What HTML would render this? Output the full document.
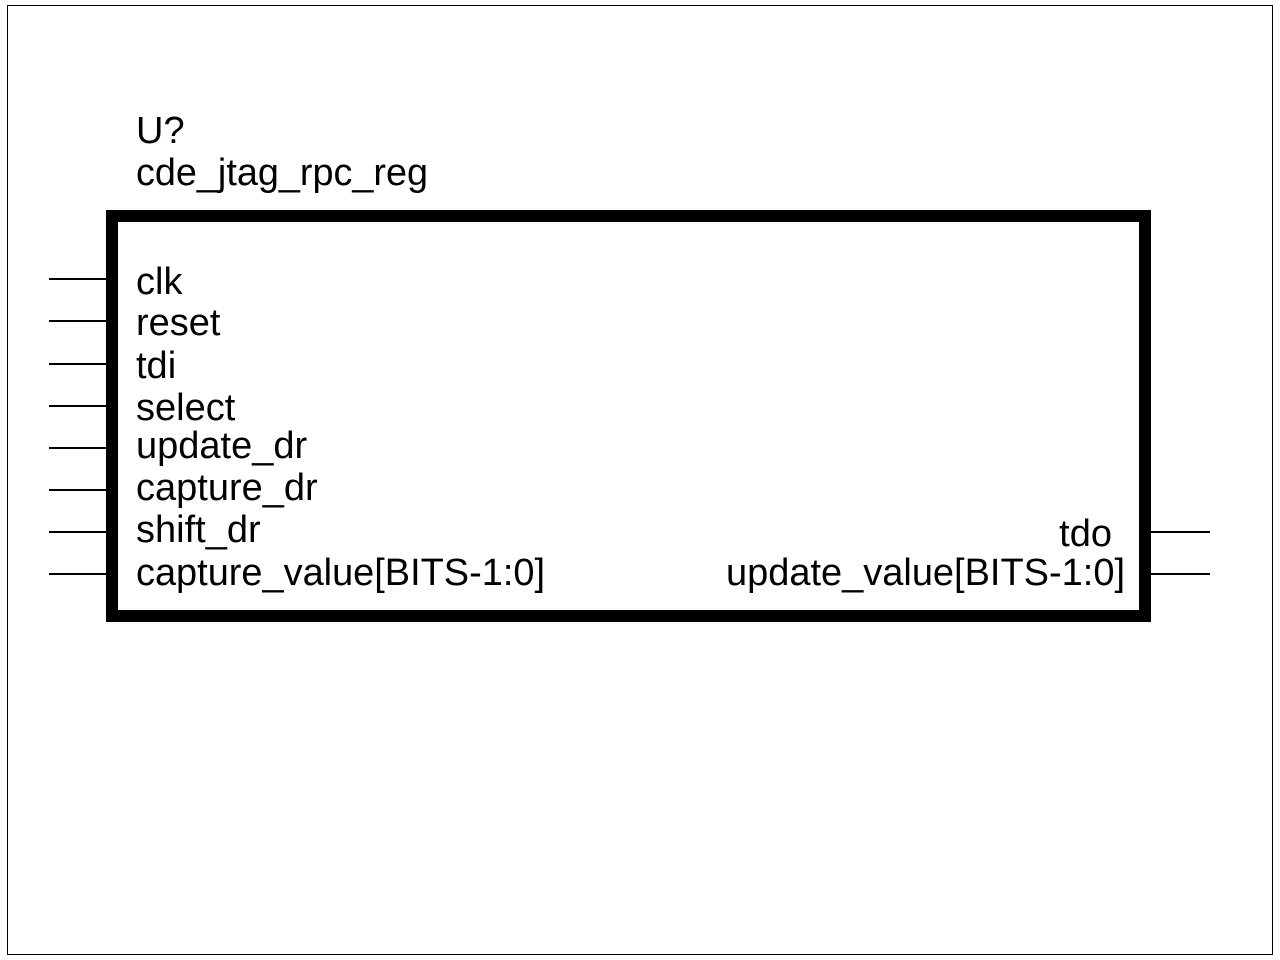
<!DOCTYPE html>
<html><head><style>body{margin:0;background:#fff}svg{display:block}</style></head>
<body>
<svg width="1280" height="960" xmlns="http://www.w3.org/2000/svg" font-family="Liberation Sans, Arial, sans-serif" font-size="38">
<rect x="0" y="0" width="1280" height="960" fill="#fff"/>
<rect x="7.5" y="5.5" width="1265" height="949" fill="none" stroke="#000" stroke-width="1"/>
<rect x="112" y="216" width="1033" height="400" fill="none" stroke="#000" stroke-width="12"/>
<g stroke="#000" stroke-width="2">
<line x1="49" y1="279" x2="106" y2="279"/>
<line x1="49" y1="321" x2="106" y2="321"/>
<line x1="49" y1="364" x2="106" y2="364"/>
<line x1="49" y1="406" x2="106" y2="406"/>
<line x1="49" y1="448" x2="106" y2="448"/>
<line x1="49" y1="490" x2="106" y2="490"/>
<line x1="49" y1="532" x2="106" y2="532"/>
<line x1="49" y1="574" x2="106" y2="574"/>
<line x1="1150" y1="532" x2="1210" y2="532"/>
<line x1="1150" y1="574" x2="1210" y2="574"/>
</g>
<g fill="#000">
<text x="136" y="143">U?</text>
<text x="136" y="185" textLength="292" lengthAdjust="spacingAndGlyphs">cde_jtag_rpc_reg</text>
<text x="136" y="294">clk</text>
<text x="136" y="335">reset</text>
<text x="136" y="378">tdi</text>
<text x="136" y="420">select</text>
<text x="136" y="458">update_dr</text>
<text x="136" y="500">capture_dr</text>
<text x="136" y="542">shift_dr</text>
<text x="136" y="585" textLength="409" lengthAdjust="spacingAndGlyphs">capture_value[BITS-1:0]</text>
<text x="1112" y="546" text-anchor="end">tdo</text>
<text x="726" y="585" textLength="399" lengthAdjust="spacingAndGlyphs">update_value[BITS-1:0]</text>
</g>
</svg>
</body></html>
